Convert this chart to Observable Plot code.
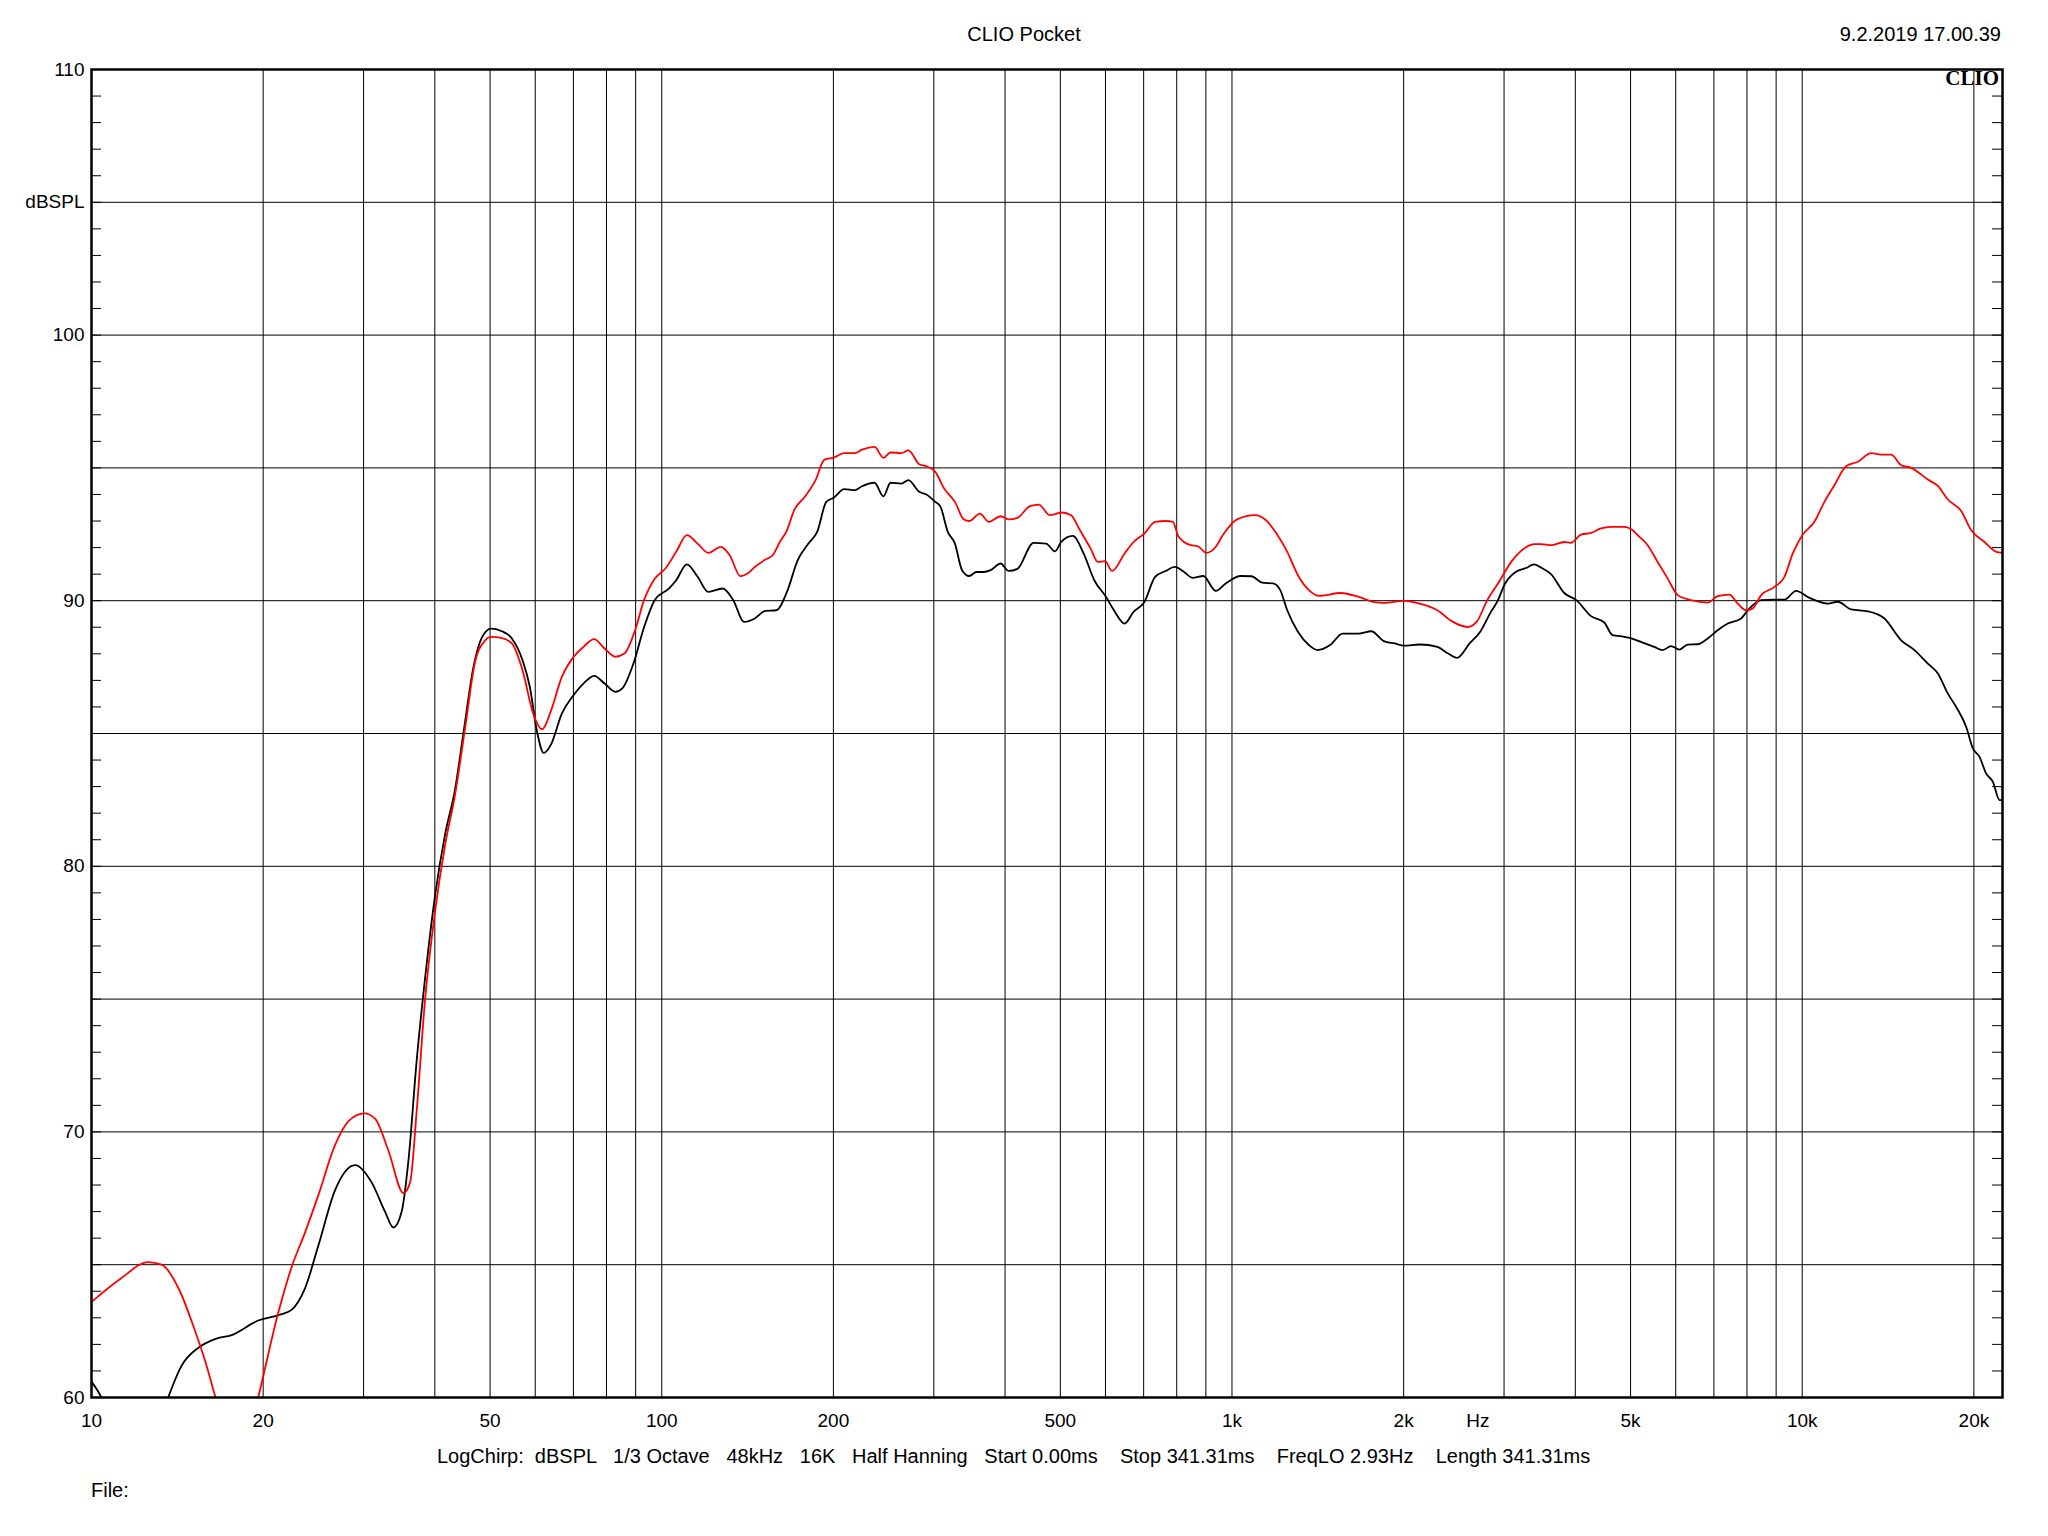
<!DOCTYPE html>
<html>
<head>
<meta charset="utf-8">
<script src="https://cdn.jsdelivr.net/npm/d3@7"></script>
<script src="https://cdn.jsdelivr.net/npm/@observablehq/plot@0.6"></script>
<style>
  html, body { margin: 0; padding: 0; background: #fff; }
  #wrap { position: relative; width: 2048px; height: 1536px; font-family: "Liberation Sans", Arial, sans-serif; color: #000; }
  .t { position: absolute; font-size: 20px; line-height: 1; white-space: pre; }
</style>
</head>
<body>
<div id="wrap">
  <div class="t" id="title" style="left:1024px; top:24px; transform:translateX(-50%);"></div>
  <div class="t" id="stamp" style="right:47px; top:24px;"></div>
  <div class="t" id="brand" style="right:49px; top:68px; font-family:'Liberation Serif','Times New Roman',serif; font-weight:bold; font-size:21px;"></div>
  <div class="t" id="params" style="left:437px; top:1445.5px;"></div>
  <div class="t" id="file" style="left:91px; top:1479.5px;"></div>
</div>
<script>
// ---- texts ----
const titleText = "CLIO Pocket";
const stampText = "9.2.2019 17.00.39";
const brandText = "CLIO";
const paramsText = "LogChirp:  dBSPL   1/3 Octave   48kHz   16K   Half Hanning   Start 0.00ms    Stop 341.31ms    FreqLO 2.93Hz    Length 341.31ms";
const fileText = "File:";

// ---- axes ----
const xDomain = [10, 22450];
const yDomain = [60, 110];
const gridFreqs = [10,20,30,40,50,60,70,80,90,100,200,300,400,500,600,700,800,900,1000,2000,3000,4000,5000,6000,7000,8000,9000,10000,20000];
const xTickValues = [10,20,50,100,200,500,1000,2000,2700,5000,10000,20000];
const xTickLabels = ["10","20","50","100","200","500","1k","2k","Hz","5k","10k","20k"];
const yGrid = [60,65,70,75,80,85,90,95,100,105,110];
const yTickValues = [60,70,80,90,100,105,110];
const yTickLabels = ["60","70","80","90","100","dBSPL","110"];
const yMinor = d3.range(61, 110);

// ---- series: black trace ----
const blackFreq = [10,10.41,11,12,13,13.63,14.39,15.39,16.46,17.61,
19.6,21.26,22.43,23.67,24.98,26.73,28.98,30.99,32.71,33.83,
34.99,35.95,37.18,38.46,40.04,41.69,43.41,44.89,46.75,48.34,
50.2,52.3,54.6,57.0,58.7,60.4,62.1,64.0,66.8,69.7,
72.9,76.1,79.4,82.9,85.3,89.2,93.1,97.2,103,106,
110.7,115.6,120.7,127.9,133.5,139.4,145.6,152,158.8,165.8,
173.1,180.8,187.4,194.3,200.3,208.9,218.1,224.5,236.1,244.8,
251.9,263.1,270.8,282.8,291.1,301.8,308.3,317.3,326.7,336.2,
346.1,356.2,366.7,377.4,393,405.6,420.5,448.7,472.1,489.4,
501.6,525.8,549.3,573.5,601.5,620.8,648.1,672.1,702,733.1,
765.4,793.5,823,853.1,890.6,936.8,977.9,1036,1082,1130,
1180,1215,1250,1305,1364,1413,1486,1564,1669,1755,
1846,1928,2004,2133,2292,2393,2481,2610,2725,2845,
2928,3001,3148,3287,3384,3482,3626,3825,4017,4262,
4497,4651,4875,5016,5215,5503,5692,5888,6088,6299,
6557,6827,7108,7404,7813,8027,8472,8938,9307,9757,
10229,10651,11089,11544,12183,13031,13936,14909,15734,16610,
17293,18006,18621,19388,19920,20460,21022,21597,22182,22454];
const blackDb = [60.6,60.0,58.6,57.8,58.7,60.0,61.2,61.87,62.2,62.35,
62.9,63.1,63.3,64.1,65.7,67.8,68.75,68.1,67.0,66.4,
67.0,68.9,72.7,75.8,78.9,81.2,82.9,85.0,87.5,88.6,
88.95,88.86,88.58,87.76,86.76,85.1,84.27,84.6,85.75,86.38,
86.88,87.17,86.88,86.57,86.7,87.63,89.0,90.02,90.46,90.77,
91.37,90.9,90.33,90.46,90.02,89.2,89.33,89.62,89.64,90.33,
91.52,92.15,92.6,93.72,93.88,94.2,94.16,94.31,94.44,93.93,
94.44,94.41,94.54,94.1,94.0,93.72,93.53,92.6,92.15,91.15,
90.93,91.08,91.08,91.15,91.4,91.12,91.2,92.18,92.15,91.86,
92.21,92.44,91.78,90.77,90.14,89.64,89.14,89.58,89.95,90.9,
91.12,91.27,91.09,90.86,90.93,90.37,90.67,90.93,90.92,90.68,
90.65,90.4,89.64,88.83,88.33,88.14,88.33,88.76,88.76,88.85,
88.48,88.39,88.31,88.35,88.26,88.01,87.85,88.39,88.83,89.58,
90.02,90.58,91.09,91.24,91.37,91.25,91.0,90.29,90.02,89.42,
89.18,88.7,88.64,88.58,88.45,88.26,88.14,88.29,88.16,88.35,
88.36,88.58,88.89,89.14,89.33,89.64,90.02,90.04,90.04,90.37,
90.14,89.98,89.89,89.96,89.67,89.6,89.33,88.51,88.14,87.63,
87.26,86.5,86.0,85.25,84.44,84.12,83.49,83.18,82.49,82.49];

// ---- series: red trace ----
const redFreq = [10,11.29,12.57,13.27,14.29,15.08,15.81,16.5,17.3,18.0,
18.8,19.6,21.26,22.43,23.67,24.98,26.73,28.21,30.09,31.42,
33.16,35.24,36.2,37.18,38.46,40.04,41.69,43.41,45.2,47.06,
49.0,50.2,52.3,54.6,57.0,59.5,61.7,64.0,66.8,69.7,
72.9,76.1,79.4,82.9,86.0,89.8,93.1,97.2,101.5,106,
110.7,115.6,120.7,127,131.6,137.4,141.4,145.6,152,156.5,
161.1,165.8,170.7,178.2,186.1,192.9,200.3,208.9,218.1,224.5,
236.1,244.8,251.9,263.1,270.8,282.8,291.1,301.8,312.9,326.7,
338.7,346.1,361.4,374.6,393,405.6,420.5,442.3,458.5,478.8,
503.6,522.2,541.4,565.2,581.8,598.9,616.3,648.1,672.1,702,
733.1,765.4,787.8,805.2,846.9,871.4,901.2,936.8,963.9,1021,
1098,1147,1197,1250,1305,1364,1424,1552,1669,1767,
1846,2004,2133,2292,2428,2591,2685,2804,2928,3102,
3287,3384,3482,3626,3825,3930,4093,4262,4437,4620,
4875,5044,5146,5358,5578,5809,6049,6383,6827,7108,
7452,7709,7973,8190,8472,8938,9307,9627,10009,10505,
10937,11388,11939,12516,13207,13751,14320,14909,15525,16610,
17293,18006,19000,19785,20878,21888,22454];
const redDb = [63.6,64.5,65.1,65.0,64.0,62.7,61.4,60.0,58.6,57.8,
58.5,60.0,63.2,64.9,66.2,67.6,69.5,70.4,70.7,70.5,
69.3,67.7,68.1,70.8,75.0,78.3,80.8,82.7,85.2,87.7,
88.5,88.64,88.6,88.39,87.38,85.75,85.16,85.88,87.13,87.82,
88.26,88.55,88.2,87.89,88.01,88.89,90.02,90.83,91.21,91.84,
92.47,92.15,91.8,92.03,91.71,90.92,91.02,91.27,91.55,91.71,
92.21,92.65,93.41,93.91,94.54,95.31,95.39,95.56,95.56,95.69,
95.79,95.38,95.58,95.56,95.66,95.14,95.06,94.85,94.22,93.72,
93.06,93.0,93.28,92.97,93.18,93.06,93.12,93.56,93.62,93.22,
93.32,93.22,92.65,91.96,91.46,91.49,91.12,91.78,92.21,92.53,
92.97,93.0,92.97,92.43,92.09,92.05,91.8,92.03,92.47,93.06,
93.22,93.03,92.53,91.84,90.96,90.4,90.18,90.29,90.14,89.96,
89.92,89.99,89.89,89.64,89.23,89.01,89.2,90.02,90.65,91.52,
92.03,92.13,92.13,92.09,92.21,92.18,92.49,92.55,92.72,92.78,
92.78,92.65,92.47,92.09,91.46,90.83,90.21,90.02,89.93,90.17,
90.23,89.89,89.64,89.71,90.21,90.52,90.9,91.78,92.47,92.97,
93.72,94.35,95.06,95.23,95.56,95.5,95.5,95.1,95.0,94.56,
94.32,93.81,93.38,92.65,92.21,91.84,91.8];

// ---- build ----
const black = blackFreq.map((f, i) => ({f, db: blackDb[i]}));
const red = redFreq.map((f, i) => ({f, db: redDb[i]}));
const xTicks = xTickValues.map((v, i) => ({v, label: xTickLabels[i]}));

const W = 2048, H = 1536;
const mL = 91, mR = 46, mT = 69, mB = 139;
const innerW = W - mL - mR;
const minorLen = 10;

const yLabel = new Map(yTickValues.map((v, i) => [v, yTickLabels[i]]));

const chart = Plot.plot({
  width: W,
  height: H,
  marginLeft: mL,
  marginRight: mR,
  marginTop: mT,
  marginBottom: mB,
  style: {fontFamily: "'Liberation Sans', Arial, sans-serif", fontSize: "19px", color: "#000", background: "transparent"},
  x: {type: "log", domain: xDomain, axis: null},
  y: {domain: yDomain},
  marks: [
    Plot.ruleX(gridFreqs, {stroke: "#000", strokeWidth: 1}),
    Plot.ruleY(yGrid, {stroke: "#000", strokeWidth: 1}),
    Plot.ruleY(yMinor, {stroke: "#000", strokeWidth: 1, insetRight: innerW - minorLen}),
    Plot.ruleY(yMinor, {stroke: "#000", strokeWidth: 1, insetLeft: innerW - minorLen}),
    Plot.line(black, {x: "f", y: "db", stroke: "#000", strokeWidth: 1.8, curve: "monotone-x", clip: true}),
    Plot.line(red, {x: "f", y: "db", stroke: "#ff0000", strokeWidth: 1.8, curve: "monotone-x", clip: true}),
    Plot.frame({stroke: "#000", strokeWidth: 2.5}),
    Plot.text(xTicks, {x: "v", text: "label", frameAnchor: "bottom", lineAnchor: "middle", dy: 23, fill: "#000", fontSize: 19}),
    Plot.axisY({ticks: yTickValues, tickFormat: (d) => yLabel.get(d), tickSize: 0, tickPadding: 7, label: null})
  ]
});
chart.style.position = "absolute";
chart.style.left = "0px";
chart.style.top = "0px";
const wrap = document.getElementById("wrap");
wrap.insertBefore(chart, wrap.firstChild);

document.getElementById("title").textContent = titleText;
document.getElementById("stamp").textContent = stampText;
document.getElementById("brand").textContent = brandText;
document.getElementById("params").textContent = paramsText;
document.getElementById("file").textContent = fileText;
</script>
</body>
</html>
